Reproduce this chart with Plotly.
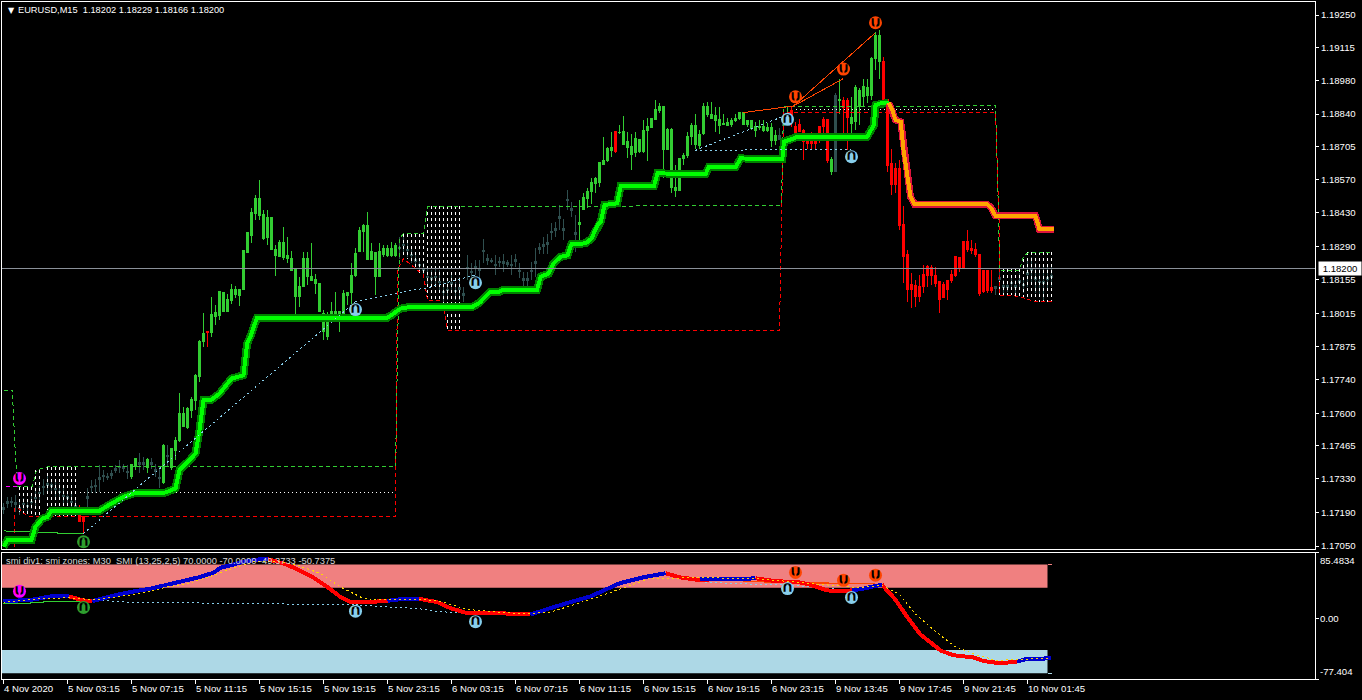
import plotly.graph_objects as go

# ---------- candle data (MT4 points: 118200 = 1.18200), one entry per M15 bar ----------
high = [117227,117254,117254,117261,117240,117250,117240,117262,117285,117300,
117330,117345,117330,117325,117310,117290,117280,117265,117250,117220,
117171,117289,117323,117330,117385,117365,117351,117365,117385,117406,
117392,117385,117392,117417,117434,117420,117413,117413,117392,117378,
117475,117468,117454,117503,117686,117627,117627,117668,117765,117903,
118014,117938,118080,118048,118103,118103,118096,118134,118127,118117,
118276,118352,118449,118504,118566,118444,118442,118414,118297,118317,
118373,118331,118273,118200,118165,118269,118269,118304,118179,118138,
118027,118020,118062,118103,118020,118110,118103,118221,118283,118373,
118386,118435,118304,118269,118304,118297,118297,118311,118304,118331,
118331,118304,118290,118262,118235,118221,118207,118193,118207,118193,
118152,118152,118179,118145,118166,118124,118255,118221,118235,118235,
118322,118262,118242,118255,118248,118262,118235,118255,118262,118221,
118186,118186,118228,118283,118304,118331,118345,118387,118394,118463,
118407,118525,118476,118421,118483,118511,118532,118573,118580,118642,
118746,118704,118766,118771,118794,118831,118766,118759,118766,118735,
118815,118822,118822,118898,118887,118874,118780,118780,118628,118656,
118677,118766,118801,118840,118773,118887,118891,118891,118870,118870,
118842,118822,118822,118842,118849,118849,118817,118815,118808,118815,
118815,118801,118801,118773,118780,118829,118870,118870,118808,118818,
118776,118753,118767,118760,118790,118829,118818,118663,118925,118987,
118909,118905,118912,118960,118946,118987,118987,119077,119181,119188,
119077,118902,118697,118635,118649,118459,118276,118180,118152,118173,
118214,118214,118214,118207,118145,118145,118152,118193,118249,118244,
118311,118359,118318,118304,118262,118193,118191,118193,118127,118207,
118152,118145,118166,118152,118180,118166,118235,118249,118221,118207,
118214,118207,118207]

low = [117185,117206,117213,117192,117178,117200,117195,117205,117215,117240,
117260,117265,117275,117250,117240,117225,117225,117200,117180,117151,
117102,117213,117268,117268,117275,117316,117323,117330,117351,117351,
117358,117330,117330,117365,117351,117365,117351,117371,117337,117289,
117309,117378,117365,117406,117482,117544,117537,117579,117613,117731,
117875,117875,117917,117965,117986,118020,118020,118055,118076,118044,
118110,118265,118304,118403,118400,118320,118297,118276,118168,118248,
118235,118221,118193,117993,118041,118124,118131,118152,118096,118020,
117903,117903,118007,117979,117938,117979,118048,118055,118165,118269,
118269,118235,118235,118090,118165,118246,118248,118246,118248,118241,
118262,118248,118221,118207,118193,118166,118124,118124,118124,118097,
118055,118069,118097,118069,118069,118062,118152,118152,118173,118152,
118221,118214,118221,118173,118207,118186,118207,118173,118207,118159,
118124,118124,118152,118166,118262,118262,118262,118318,118331,118359,
118318,118442,118414,118269,118290,118442,118449,118469,118511,118538,
118632,118642,118663,118677,118759,118711,118656,118608,118663,118677,
118677,118646,118780,118815,118845,118573,118690,118511,118497,118522,
118628,118656,118711,118697,118697,118753,118829,118822,118766,118759,
118794,118794,118787,118808,118815,118794,118787,118773,118746,118773,
118766,118766,118704,118711,118732,118760,118801,118787,118746,118767,
118649,118697,118691,118691,118718,118746,118635,118587,118601,118842,
118739,118691,118739,118773,118794,118870,118884,118898,119022,118987,
118902,118601,118504,118511,118359,118138,118062,118035,118041,118062,
118097,118124,118131,118124,118017,118076,118069,118138,118166,118186,
118200,118269,118262,118249,118086,118097,118100,118097,118090,118111,
118097,118104,118111,118097,118111,118097,118124,118138,118097,118083,
118069,118111,118124]

open_ = [117209,117233,117236,117229,117212,117228,117220,117236,117253,117273,
117298,117308,117305,117290,117278,117260,117255,117236,117218,117206,
117171,117254,117298,117302,117333,117343,117340,117350,117371,117381,
117378,117360,117337,117381,117395,117395,117376,117395,117367,117336,
117312,117426,117376,117447,117486,117544,117541,117613,117655,117751,
117896,117938,117933,118003,118007,118023,118023,118066,118094,118090,
118114,118268,118335,118428,118421,118324,118328,118279,118255,118251,
118246,118241,118193,118085,118085,118127,118165,118152,118138,118023,
117938,117920,118011,118011,117986,117986,118090,118099,118172,118269,
118352,118237,118237,118168,118168,118259,118255,118255,118255,118289,
118300,118279,118258,118237,118217,118196,118168,118161,118168,118148,
118106,118113,118141,118110,118120,118096,118206,118189,118207,118196,
118275,118241,118234,118217,118230,118227,118224,118217,118237,118193,
118158,118158,118193,118227,118286,118299,118306,118355,118365,118414,
118365,118486,118448,118348,118389,118446,118490,118518,118552,118555,
118632,118649,118690,118686,118765,118715,118700,118674,118679,118684,
118684,118773,118783,118819,118853,118695,118695,118536,118525,118522,
118656,118667,118746,118715,118711,118759,118840,118822,118815,118794,
118797,118794,118797,118812,118822,118798,118798,118780,118773,118784,
118773,118773,118729,118729,118735,118798,118839,118815,118787,118798,
118773,118753,118753,118746,118787,118818,118818,118653,118601,118901,
118867,118894,118826,118808,118870,118914,118918,118918,119068,119057,
118902,118902,118635,118615,118615,118384,118256,118135,118131,118127,
118177,118207,118204,118173,118145,118135,118152,118177,118249,118244,
118311,118311,118283,118279,118260,118191,118191,118122,118127,118162,
118128,118128,118142,118128,118149,118135,118183,118197,118162,118148,
118145,118162,118169]

close = [117203,117227,117230,117223,117206,117222,117214,117230,117247,117267,
117292,117302,117299,117284,117272,117254,117249,117230,117212,117151,
117153,117248,117292,117296,117327,117337,117334,117344,117365,117375,
117372,117354,117389,117413,117389,117389,117409,117389,117361,117330,
117465,117420,117454,117489,117599,117599,117620,117659,117755,117896,
117931,117933,118011,118016,118103,118101,118072,118113,118113,118113,
118273,118348,118431,118490,118490,118425,118411,118411,118280,118308,
118308,118253,118241,118200,118127,118241,118241,118168,118154,118138,
118014,118007,118023,118020,118020,118096,118099,118172,118262,118356,
118380,118380,118269,118266,118269,118283,118283,118283,118294,118283,
118294,118273,118252,118231,118211,118190,118162,118155,118162,118142,
118100,118107,118135,118104,118114,118090,118200,118183,118201,118190,
118269,118235,118228,118211,118224,118221,118218,118211,118231,118187,
118152,118152,118187,118221,118280,118293,118300,118349,118359,118408,
118359,118480,118442,118342,118383,118494,118518,118556,118573,118639,
118646,118697,118701,118766,118762,118766,118725,118704,118739,118735,
118771,118787,118822,118860,118873,118873,118776,118777,118534,118656,
118670,118748,118794,118794,118757,118873,118870,118840,118833,118819,
118801,118804,118815,118822,118846,118846,118815,118812,118787,118790,
118790,118784,118784,118753,118753,118792,118833,118856,118760,118767,
118725,118718,118718,118718,118739,118787,118649,118601,118916,118895,
118898,118826,118801,118949,118939,118956,118950,119070,119167,119167,
119059,118628,118546,118546,118380,118249,118111,118113,118086,118083,
118124,118173,118173,118138,118073,118079,118113,118149,118173,118200,
118200,118279,118276,118256,118097,118104,118108,118108,118116,118156,
118122,118122,118136,118122,118143,118129,118177,118191,118156,118142,
118139,118156,118163]

# Candle colour state per bar: run-lengths (state, number of bars)
bar_state_runs = [("S",19),("R",2),("S",11),("G",2),("S",2),("G",1),("S",3),("G",1),("S",1),
    ("G",9),("R",1),("G",47),("S",45),("G",9),("R",1),("G",40),("S",2),("G",1),("R",10),
    ("G",1),("S",1),("G",1),("R",2),("G",8),("R",28),("S",14)]

# ---------- thick moving-average line ----------
ma_up_x = [0,1,7,8,9.7,11,12,24,26.3,30,32.6,40.5,43,44,46.7,48,49,50,52,54,57,60,60.9,61.7,63.4,96,97,99.25,
    101,117,119,121.5,124,125,133.4,134.3,136.3,137.5,139.25,141,142,145.5,147,148.5,149.3,150.25,153.4,154.3,
    162.6,163.5,175.5,176.3,183,184.3,194.7,195.1,197.6,198.4,215.9,217.6,218,219.25,221.3]
ma_up_p = [117047,117075,117075,117130,117164,117171,117196,117196,117220,117254,117268,117272,117289,117365,
    117409,117434,117530,117655,117657,117682,117744,117758,117889,117917,117997,117997,118007,118034,
    118039,118039,118058,118101,118104,118113,118113,118166,118179,118221,118248,118255,118301,118304,118324,
    118380,118393,118463,118470,118541,118541,118594,118591,118619,118619,118656,118652,118725,118739,118746,
    118746,118794,118877,118884,118887]
ma_dn_x = [221.3,222.2,223,224.3,225,226,226.75,227.75,245.9,247,248,258,259,262.6]
ma_dn_p = [118887,118856,118815,118808,118691,118594,118497,118467,118467,118449,118418,118418,118362,118362]

# ---------- zone lines ----------
zone_green_x = [0,2.2,3,3.5,3.8,7.2,8.25,11,98,99,100,105,106,194,194.5,195,248,248.75,249,254,255,256.25,262]
zone_green_p = [117696,117696,117420,117296,117296,117296,117365,117378,117378,118324,118345,118345,118456,
    118461,118461,118870,118874,118428,118193,118193,118249,118267,118267]
zone_red_x = [2.75,2.75,3.8,5.9,98,98.5,100,103,105,106,109,110,111,194,194.4,195,195,248,249,249,251.75,255,258,262]
zone_red_p = [117047,117206,117206,117174,117171,118193,118241,118200,118173,118069,118069,118040,117945,117945,
    118290,118787,118847,118847,118345,118090,118090,118079,118062,118062]
mid_dot_a_x = [19,98]
mid_dot_a_p = [117272,117272]
mid_dot_b_x = [198,248]
mid_dot_b_p = [118860,118860]

# hatching between the zone lines
hatch_x = [4,5,6,7,8,9,11,12,13,14,15,16,17,18,
           100,101,102,103,104,105,106,107,108,109,110,111,112,113,114,
           249,250,251,252,253,254,255,256,257,258,259,260,261,262]
hatch_top = [117296,117296,117296,117296,117367,117367,117378,117378,117378,117378,117378,117378,117378,117378,
             118345,118345,118345,118345,118345,118345,118461,118461,118461,118461,118461,118461,118461,118461,118461,
             118196,118196,118196,118196,118196,118196,118240,118267,118267,118267,118267,118267,118267,118267]
hatch_bot = [117190,117174,117174,117174,117174,117174,117174,117174,117174,117174,117174,117174,117174,117174,
             118241,118241,118225,118200,118180,118173,118069,118069,118069,118069,118040,117951,117951,117951,117951,
             118090,118090,118090,118090,118085,118085,118079,118075,118070,118062,118062,118062,118062,118062]

# ---------- divergence lines, main window ----------
div_blue = [([20,88],[117102,118062]), ([88,99,106,118],[118062,118101,118120,118173]),
            ([173,195.7],[118690,118835]), ([173,212],[118690,118693])]
div_orange = [([185,197.5],[118846,118873]), ([197.5,218],[118873,119177]), ([197.5,210],[118873,118987])]
thin_green_x = [0,12.6,20]
thin_green_p = [117113,117105,117100]
magenta_x = [0.5,3.8]
magenta_p = [117298,117298]

# arrows, main window
arrows_main = [(4,117330,"#FF00FF","d"),(20,117068,"#2E9E2E","u"),(88,118030,"#87CEEB","u"),(118,118141,"#87CEEB","u"),
               (196,118818,"#87CEEB","u"),(212,118663,"#87CEEB","u"),(198,118911,"#FF4500","d"),
               (210,119026,"#FF4500","d"),(218,119218,"#FF4500","d")]

# ---------- SMI sub window ----------
smi_blue_x = [0,7.6,11.75,16.3,None,22.2,24.25,28.4,32.6,36.75,41,45,49.25,52.6,54.25,57.6,60,64.25,66,None,
    96,100,103.8,None,131.75,138,146.75,154,160,165.5,None,174,183.2,188,None,212.2,214.9,219.6,None,253.4,255.5,261.8]
smi_blue_v = [22.5,25,29,29,None,22.9,25.9,31.1,35.4,38.9,44.1,48.4,54.1,59.7,65.8,70.1,73.6,77,77,None,
    23.3,25.9,25.9,None,5.6,16,29,45.8,53.6,58.8,None,51,51,52.3,None,36.7,38.9,44.1,None,-55,-52,-50.7]
smi_red_x = [16.3,20,22.2,None,66,66.75,70,73.4,77.6,81,84.25,86.75,91,96,None,103.8,108.4,111.75,116,124,131.75,None,
    165.5,169,174,177.4,None,188,193.2,198.5,201.7,205.9,208.5,212.2,None,219.6,222.8,226,229.1,234.4,237.6,242.8,244.9,249.2,253.4]
smi_red_v = [29,23.8,22.9,None,77,75.7,71.4,64,52.8,41.1,28.1,21.6,21.6,23.3,None,25.9,21.6,13.8,7.3,7.3,5.6,None,
    58.8,53.6,50,51,None,52.3,48.4,47.6,44.1,36.7,35.9,36.7,None,44.1,25.9,2,-19.5,-41.2,-46.8,-49.9,-54.2,-57.2,-55]
signal_x = [0,4.25,9.25,16,22.6,31,34.25,41,46,52.6,57.6,62.6,68.4,73.4,79.25,84.25,89.25,91.75,99.25,105,109.25,116,124,
    131,137,149,161.5,174,188,201.7,214,219.6,223.8,228,233.3,237.6,242.8,248,254.4,261.8]
signal_v = [21.6,23.8,25.9,27.2,24.6,30.3,32.4,41.1,45.4,56.2,65.8,73.6,74.4,69.2,58.4,41.1,28.1,24.6,25,25,22.5,12.1,8.6,
    6.5,9,29,52,53,52,46,40,43.2,32.4,6.4,-17.4,-34.7,-45.5,-53.3,-52,-50.7]
sub_div_blue = [([22.2,31,88],[24.6,21.6,18.1]), ([88,104.25,107.6,118],[18.1,12.9,9.9,6.4]),
                ([174.25,190,196],[47.6,44,44]), ([196,206,212],[44,39,36.7])]
sub_div_orange = [([185,199,210],[48,46.7,45.4]), ([199,218],[46.7,45.4])]
sub_green_x = [0,10,10,20]
sub_green_v = [19.9,20.7,22.5,22.5]
arrows_sub = [(4,35.5,"#FF00FF","d"),(20,14.7,"#2E9E2E","u"),(88,9.9,"#87CEEB","u"),(118,-3.6,"#87CEEB","u"),
              (196,39,"#87CEEB","u"),(212,27.7,"#87CEEB","u"),(198,59.7,"#FF4500","d"),(210,49.7,"#FF4500","d"),(218,56.2,"#FF4500","d")]
band_high = (40, 70)
band_low = (-70, -40)
band_end_bar = 261
band_tail_bar = 262
sub_top = 85.4834
sub_bottom = -77.404

# ---------- axes text ----------
price_ticks = ["1.19250","1.19115","1.18980","1.18840","1.18705","1.18570","1.18430","1.18290","1.18155",
               "1.18015","1.17875","1.17740","1.17600","1.17465","1.17330","1.17190","1.17050"]
time_bars = [0,16,32,48,64,80,96,112,128,144,160,176,192,208,224,240,256]
time_labels = ["4 Nov 2020","5 Nov 03:15","5 Nov 07:15","5 Nov 11:15","5 Nov 15:15","5 Nov 19:15","5 Nov 23:15",
               "6 Nov 03:15","6 Nov 07:15","6 Nov 11:15","6 Nov 15:15","6 Nov 19:15","6 Nov 23:15",
               "9 Nov 13:45","9 Nov 17:45","9 Nov 21:45","10 Nov 01:45"]
current_price = 1.18200
title_main = "EURUSD,M15  1.18202 1.18229 1.18166 1.18200"
title_sub = "smi div1: smi zones: M30  SMI (13,25,2,5) 70.0000 -70.0000 -49.3733 -50.7375"

FONT = "Liberation Sans, Arial"
TXT = dict(family=FONT, size=9.6, color="white")

left_px, right_px, top_px, split_main, split_sub, bottom_px = 2, 1315, 2, 549, 552.5, 679
W_PLOT, H_PLOT = right_px - left_px, bottom_px - top_px
x_range = [-0.375, 327.875]

def pap_x(p):
    return (p - left_px) / W_PLOT

def pap_y(p):
    return 1 - (p - top_px) / H_PLOT

def px(v):
    return [None if a is None else a / 1e5 for a in v]

states = [s for s, n in bar_state_runs for _ in range(n)]
n_bars = len(high)
states = (states + ["S"] * n_bars)[:n_bars]

fig = go.Figure()

def line(x, y, color, width=1, dash=None, sub=False):
    fig.add_trace(go.Scatter(x=x, y=y, mode="lines", hoverinfo="skip", showlegend=False,
                             line=dict(color=color, width=width, dash=dash, shape="linear"),
                             connectgaps=False, xaxis="x2" if sub else "x", yaxis="y2" if sub else "y"))

# hatching
hx, hy = [], []
for x, t, b in zip(hatch_x, hatch_top, hatch_bot):
    hx += [x, x, None]; hy += [t / 1e5, b / 1e5, None]
line(hx, hy, "white", 1, "3px,3px")

# zone lines
line(mid_dot_a_x, px(mid_dot_a_p), "white", 1, "1px,3px")
line(mid_dot_b_x, px(mid_dot_b_p), "white", 1, "1px,3px")
line(zone_green_x, px(zone_green_p), "#32CD32", 1, "4px,3px")
line(zone_red_x, px(zone_red_p), "#FF0000", 1, "4px,3px")
line(thin_green_x, px(thin_green_p), "#32CD32", 1)
line(magenta_x, px(magenta_p), "#FF00FF", 1, "4px,3px")

# thick MA
line(ma_up_x, px(ma_up_p), "#008000", 8)
line(ma_up_x, px(ma_up_p), "#00FF00", 4)
line(ma_dn_x, px(ma_dn_p), "#DC143C", 7)
line(ma_dn_x, px(ma_dn_p), "#FFA500", 4)

# divergences
for x, y in div_blue:
    line(x, px(y), "#87CEEB", 1, "2px,3px")
for x, y in div_orange:
    line(x, px(y), "#FF4500", 1)

# candles
for key, col in (("S", "#2F4F4F"), ("G", "#32CD32"), ("R", "#FF0000")):
    idx = [i for i in range(n_bars) if states[i] == key]
    fig.add_trace(go.Candlestick(
        x=idx, open=[open_[i] / 1e5 for i in idx], high=[high[i] / 1e5 for i in idx],
        low=[low[i] / 1e5 for i in idx], close=[close[i] / 1e5 for i in idx],
        increasing=dict(line=dict(color=col, width=1), fillcolor=col),
        decreasing=dict(line=dict(color=col, width=1), fillcolor=col),
        hoverinfo="skip", showlegend=False, whiskerwidth=0, xaxis="x", yaxis="y"))

# SMI lines
line([band_end_bar, band_tail_bar], [band_high[1]] * 2, "#F08080", 1, sub=True)
line([band_end_bar, band_tail_bar], [band_low[0]] * 2, "#ADD8E6", 1, sub=True)
for x, y in sub_div_blue:
    line(x, y, "#87CEEB", 1, "2px,3px", sub=True)
for x, y in sub_div_orange:
    line(x, y, "#FF4500", 1, sub=True)
line(sub_green_x, sub_green_v, "#32CD32", 1, sub=True)
line(smi_red_x, smi_red_v, "#FF0000", 4, sub=True)
line(smi_blue_x, smi_blue_v, "#0000CD", 4, sub=True)
line(signal_x, signal_v, "#FFD700", 1, "2px,3px", sub=True)

# arrow glyphs
def arrows(items, sub=False):
    xa, ya = ("x2", "y2") if sub else ("x", "y")
    for x, y, col, d in items:
        v = y if sub else y / 1e5
        fig.add_trace(go.Scatter(x=[x], y=[v], mode="markers", hoverinfo="skip", showlegend=False, xaxis=xa, yaxis=ya,
                                 marker=dict(symbol="circle", size=13, color=col, line=dict(width=0))))
        fig.add_trace(go.Scatter(x=[x], y=[v], mode="text", hoverinfo="skip", showlegend=False, xaxis=xa, yaxis=ya,
                                 text=["<b>∩</b>" if d == "u" else "<b>∪</b>"], textposition="middle center",
                                 textfont=dict(family="DejaVu Sans", size=15, color="black")))
        fig.add_trace(go.Scatter(x=[x], y=[v], mode="markers", hoverinfo="skip", showlegend=False, xaxis=xa, yaxis=ya,
                                 marker=dict(symbol="line-ns", size=6, line=dict(width=2, color=col))))
arrows(arrows_main)
arrows(arrows_sub, sub=True)

shapes = [
    dict(type="rect", xref="x2", yref="y2", x0=x_range[0], x1=band_end_bar, y0=band_high[0], y1=band_high[1],
         fillcolor="#F08080", line_width=0, layer="below"),
    dict(type="rect", xref="x2", yref="y2", x0=x_range[0], x1=band_end_bar, y0=band_low[0], y1=band_low[1],
         fillcolor="#ADD8E6", line_width=0, layer="below"),
    dict(type="line", xref="x domain", yref="y", x0=0, x1=1, y0=current_price, y1=current_price,
         line=dict(color="#8A9099", width=1), layer="above"),
]

annotations = [
    dict(text="▼", xref="paper", yref="paper", x=pap_x(6), y=pap_y(10), xanchor="left", yanchor="middle",
         showarrow=False, font=dict(family="DejaVu Sans", size=8, color="white")),
    dict(text=title_main, xref="paper", yref="paper", x=pap_x(16), y=pap_y(10), xanchor="left", yanchor="middle",
         showarrow=False, font=dict(family=FONT, size=9.25, color="white")),
    dict(text=title_sub, xref="paper", yref="paper", x=pap_x(4), y=pap_y(561), xanchor="left", yanchor="middle",
         showarrow=False, font=dict(family=FONT, size=9.35, color="#D8D8D8")),
    dict(text=f"{current_price:.5f}", xref="paper", yref="y", x=pap_x(1318), y=current_price, xanchor="left",
         yanchor="middle", showarrow=False, bgcolor="white", borderpad=1, width=40,
         font=dict(family=FONT, size=9.6, color="black")),
    dict(text=f"{sub_top:.4f}", xref="paper", yref="y2", x=pap_x(1318), y=sub_top, xanchor="left", yanchor="top",
         showarrow=False, font=TXT),
    dict(text="0.00", xref="paper", yref="y2", x=pap_x(1318), y=0, xanchor="left", yanchor="middle",
         showarrow=False, font=TXT),
    dict(text=f"{sub_bottom:.3f}", xref="paper", yref="y2", x=pap_x(1318), y=sub_bottom,
         xanchor="left", yanchor="bottom", showarrow=False, font=TXT),
]
for b, t in zip(time_bars, time_labels):
    annotations.append(dict(text=t, xref="x2", yref="paper", x=b, y=pap_y(688), xanchor="left", yanchor="middle",
                            xshift=-2, showarrow=False, font=TXT))

fig.update_layout(
    width=1362, height=700, margin=dict(l=left_px, r=1362 - right_px, t=top_px, b=700 - bottom_px),
    paper_bgcolor="black", plot_bgcolor="black", showlegend=False, shapes=shapes, annotations=annotations,
    boxgap=0.29, boxgroupgap=0.29,
    xaxis=dict(domain=[0, 1], range=x_range, anchor="y", matches="x2", showticklabels=False, ticks="",
               showgrid=False, zeroline=False, showline=True, mirror=True, linecolor="white", linewidth=1,
               rangeslider=dict(visible=False)),
    xaxis2=dict(domain=[0, 1], range=x_range, anchor="y2", showticklabels=False, ticks="outside", ticklen=4,
                tickcolor="white", tickwidth=1, tickvals=time_bars, showgrid=False, zeroline=False, showline=True,
                mirror=True, linecolor="white", linewidth=1, rangeslider=dict(visible=False)),
    yaxis=dict(domain=[(bottom_px - split_main) / H_PLOT, 1], range=[1.17038, 1.19304], anchor="x", side="right",
               tickvals=[float(t) for t in price_ticks], ticktext=price_ticks, ticks="outside", ticklen=3,
               tickcolor="white", tickfont=TXT, showgrid=False, zeroline=False, showline=True, mirror=True,
               linecolor="white", linewidth=1),
    yaxis2=dict(domain=[0, (bottom_px - split_sub) / H_PLOT], range=[sub_bottom, sub_top], anchor="x2", side="right",
                tickvals=[sub_top, 0, sub_bottom], showticklabels=False, ticks="outside", ticklen=3, tickcolor="white",
                showgrid=False, zeroline=False, showline=True, mirror=True, linecolor="white", linewidth=1),
)

crisp = ("var s=document.createElement('style');"
         "s.textContent='.boxlayer path,.scatterlayer path.js-line{shape-rendering:crispEdges}';"
         "document.head.appendChild(s);"
         "document.body.style.margin='0';document.body.style.background='black';document.body.style.overflow='hidden';")
fig.write_html("out.html", config=dict(displayModeBar=False, responsive=False), post_script=crisp)
